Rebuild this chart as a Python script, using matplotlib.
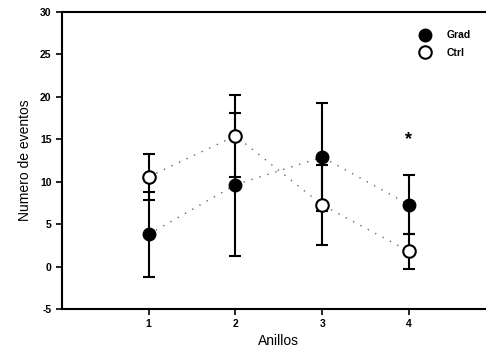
import numpy as np
import matplotlib.pyplot as plt

plt.rcParams["axes.unicode_minus"] = False

anillos = [1, 2, 3, 4]
grad = [3.8, 9.65, 12.9, 7.3]
grad_err = [5.0, 8.45, 6.4, 3.5]
ctrl = [10.6, 15.4, 7.25, 1.8]
ctrl_err = [2.7, 4.8, 4.7, 2.07]
star_x = 4
star_y = 15.0

fig = plt.figure(figsize=(4.86, 3.54), dpi=100)
ax = fig.add_axes([62/486, 45/354, 1 - 62/486 + 0.02, 297/354])

# connecting lines (dotted, grey)
ax.plot(anillos, grad, ls=(0, (1, 5)), color="0.4", lw=1, zorder=1)
ax.plot(anillos, ctrl, ls=(0, (1, 5)), color="0.4", lw=1, zorder=1)

ax.errorbar(anillos, grad, yerr=grad_err, fmt="o", color="black", mfc="black",
            mec="black", ms=9, capsize=4, elinewidth=1.5, capthick=1.5,
            label="Grad", zorder=3)
ax.errorbar(anillos, ctrl, yerr=ctrl_err, fmt="o", color="black", mfc="white",
            mec="black", mew=1.5, ms=9, capsize=4, elinewidth=1.5, capthick=1.5,
            label="Ctrl", zorder=4)

ax.text(star_x, star_y, "*", ha="center", va="center", fontsize=13,
        fontweight="bold", family="Liberation Sans")

ax.set_xlim(0, 5.0)
ax.set_ylim(-5, 30)
ax.set_xticks(anillos)
ax.set_yticks(np.arange(-5, 31, 5))
ax.tick_params(direction="out", length=4, width=1.2, labelsize=7.5)
for lab in ax.get_xticklabels() + ax.get_yticklabels():
    lab.set_fontweight("bold")
    lab.set_family("Liberation Sans")
for s in ["left", "bottom", "top"]:
    ax.spines[s].set_linewidth(1.5)
ax.spines["right"].set_visible(False)

ax.set_xlabel("Anillos", fontsize=10, family="Liberation Sans", labelpad=3)
ax.set_ylabel("Numero de eventos", fontsize=10, family="Liberation Sans", labelpad=6)

handles, labels = ax.get_legend_handles_labels()
leg = ax.legend([h[0] for h in handles], labels, loc="upper right",
                bbox_to_anchor=(0.965, 0.97), frameon=False, handletextpad=1.6,
                labelspacing=0.75, prop={"family": "Liberation Sans", "weight": "bold", "size": 7.5},
                markerscale=1.0, handlelength=1)

fig.savefig("out.png", dpi=100)
